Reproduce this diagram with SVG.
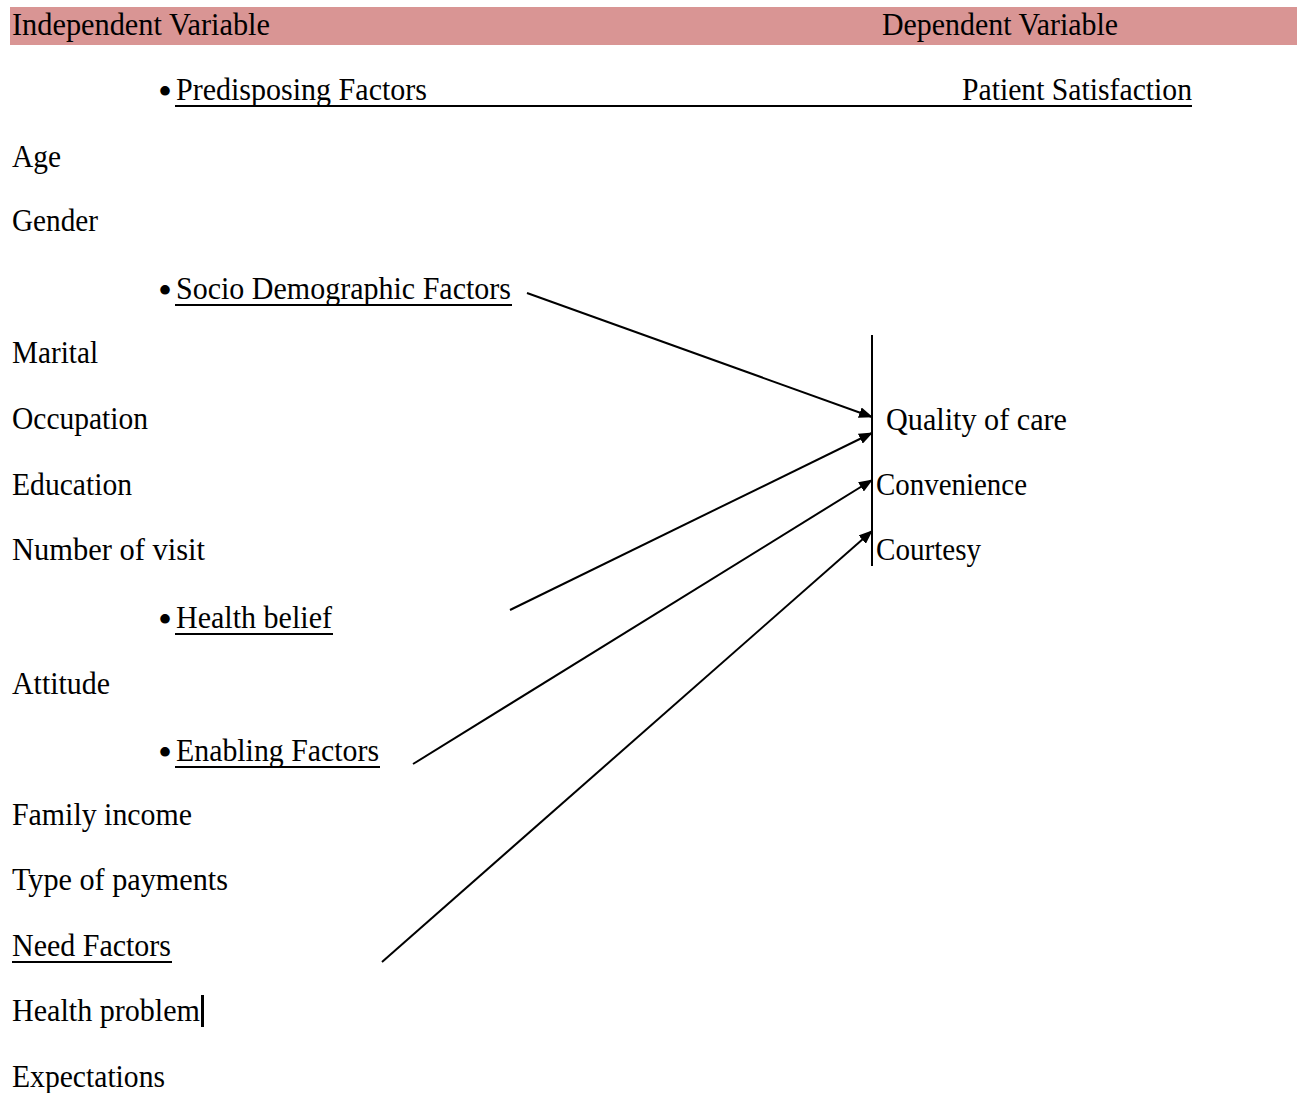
<svg xmlns="http://www.w3.org/2000/svg" width="1297" height="1093" viewBox="0 0 1297 1093" font-family="'Liberation Serif', 'Times New Roman', serif">
<defs>
<style>
text{font-family:"Liberation Serif","Times New Roman",serif;font-size:31px;fill:#000}
text.b{font-size:40px}
.ul{stroke:#000;stroke-width:2}
.conn{stroke:#000;stroke-width:2;fill:none}
</style>
<marker id="ah" markerWidth="14" markerHeight="11" refX="13" refY="5.5" orient="auto" markerUnits="userSpaceOnUse">
<path d="M0,0 L14,5.5 L0,11 Z" fill="#000"/>
</marker>
</defs>
<rect x="0" y="0" width="1297" height="1093" fill="#fff"/>
<g id="header">
<rect x="10" y="7" width="1287" height="38" fill="#d99594"/>
<text x="12" y="35" textLength="258" lengthAdjust="spacingAndGlyphs">Independent Variable</text>
<text x="882" y="35" textLength="236" lengthAdjust="spacingAndGlyphs">Dependent Variable</text>
</g>
<g id="predisposing">
<text class="b" x="158" y="105">•</text>
<text x="176" y="100" textLength="251" lengthAdjust="spacingAndGlyphs">Predisposing  Factors</text>
<text x="962" y="100" textLength="230" lengthAdjust="spacingAndGlyphs">Patient Satisfaction</text>
<line class="ul" x1="175" y1="106" x2="1192" y2="106" stroke-width="2.5"/>
</g>
<g id="age"><text x="12" y="167" textLength="49" lengthAdjust="spacingAndGlyphs">Age</text></g>
<g id="gender"><text x="12" y="231" textLength="86" lengthAdjust="spacingAndGlyphs">Gender</text></g>
<g id="socio">
<text class="b" x="158" y="304">•</text>
<text x="176" y="299" textLength="335" lengthAdjust="spacingAndGlyphs">Socio Demographic  Factors</text>
<line class="ul" x1="175" y1="305" x2="512" y2="305"/>
</g>
<g id="marital"><text x="12" y="363" textLength="86" lengthAdjust="spacingAndGlyphs">Marital</text></g>
<g id="occupation"><text x="12" y="429" textLength="136" lengthAdjust="spacingAndGlyphs">Occupation</text></g>
<g id="education"><text x="12" y="495" textLength="120" lengthAdjust="spacingAndGlyphs">Education</text></g>
<g id="visit"><text x="12" y="560" textLength="193" lengthAdjust="spacingAndGlyphs">Number  of visit</text></g>
<g id="health-belief">
<text class="b" x="158" y="633">•</text>
<text x="176" y="628" textLength="156" lengthAdjust="spacingAndGlyphs">Health belief</text>
<line class="ul" x1="175" y1="634" x2="333" y2="634"/>
</g>
<g id="attitude"><text x="12" y="694" textLength="98" lengthAdjust="spacingAndGlyphs">Attitude</text></g>
<g id="enabling">
<text class="b" x="158" y="766">•</text>
<text x="176" y="761" textLength="203" lengthAdjust="spacingAndGlyphs">Enabling Factors</text>
<line class="ul" x1="175" y1="767" x2="380" y2="767"/>
</g>
<g id="income"><text x="12" y="825" textLength="180" lengthAdjust="spacingAndGlyphs">Family income</text></g>
<g id="payments"><text x="12" y="890" textLength="216" lengthAdjust="spacingAndGlyphs">Type  of payments</text></g>
<g id="need">
<text x="12" y="956" textLength="159" lengthAdjust="spacingAndGlyphs">Need Factors</text>
<line class="ul" x1="12" y1="962" x2="172" y2="962"/>
</g>
<g id="health-problem">
<text x="12" y="1021" textLength="188" lengthAdjust="spacingAndGlyphs">Health problem</text>
<rect x="201" y="995" width="3" height="32" fill="#000"/>
</g>
<g id="expectations"><text x="12" y="1087" textLength="153" lengthAdjust="spacingAndGlyphs">Expectations</text></g>
<g id="satisfaction">
<line class="conn" x1="872" y1="335" x2="872" y2="566"/>
<text x="886" y="430" textLength="181" lengthAdjust="spacingAndGlyphs">Quality  of care</text>
<text x="876" y="495" textLength="151" lengthAdjust="spacingAndGlyphs">Convenience</text>
<text x="876" y="560" textLength="105" lengthAdjust="spacingAndGlyphs">Courtesy</text>
</g>
<g id="connectors">
<line class="conn" x1="527" y1="293" x2="872" y2="417" marker-end="url(#ah)"/>
<line class="conn" x1="510" y1="610" x2="872" y2="433" marker-end="url(#ah)"/>
<line class="conn" x1="413" y1="764" x2="872" y2="480" marker-end="url(#ah)"/>
<line class="conn" x1="382" y1="962" x2="872" y2="531" marker-end="url(#ah)"/>
</g>
</svg>
